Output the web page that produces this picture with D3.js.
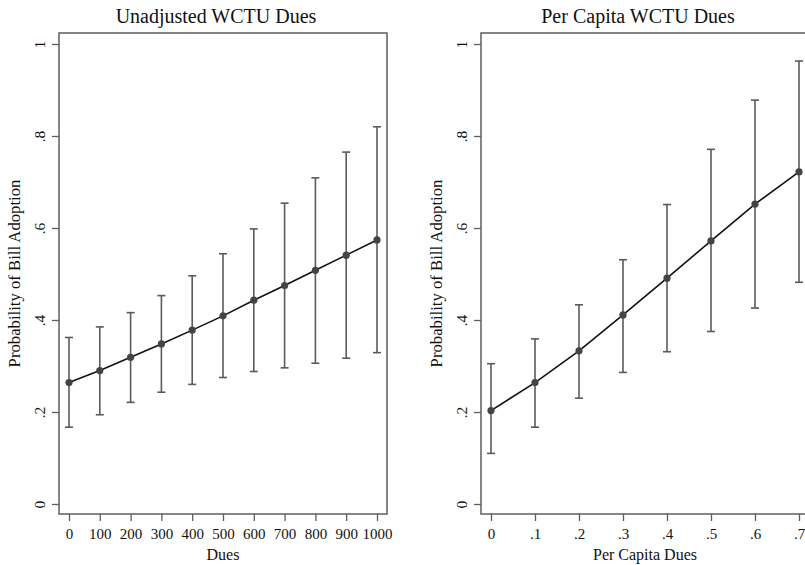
<!DOCTYPE html>
<html>
<head>
  <meta charset="utf-8" />
  <title>WCTU Dues</title>
  <style>
    body { margin: 0; background: #ffffff; }
    svg { display: block; font-family: 'Liberation Serif', 'Times New Roman', serif; }
  </style>
  <script src="https://cdnjs.cloudflare.com/ajax/libs/d3/7.8.5/d3.min.js"></script>
</head>
<body>
<div id="chart"></div>
<script>
  // left panel: unadjusted dues
  var duesX = [0, 100, 200, 300, 400, 500, 600, 700, 800, 900, 1000];
  var duesProb = [0.264, 0.290, 0.319, 0.348, 0.378, 0.409, 0.443, 0.475, 0.508, 0.541, 0.574];
  var duesLow = [0.167, 0.194, 0.221, 0.243, 0.260, 0.275, 0.288, 0.296, 0.306, 0.317, 0.329];
  var duesHigh = [0.362, 0.385, 0.416, 0.453, 0.496, 0.544, 0.598, 0.654, 0.709, 0.765, 0.820];

  // right panel: per capita dues
  var capX = [0, 0.1, 0.2, 0.3, 0.4, 0.5, 0.6, 0.7];
  var capProb = [0.203, 0.264, 0.333, 0.411, 0.491, 0.572, 0.652, 0.722];
  var capLow = [0.110, 0.167, 0.230, 0.286, 0.331, 0.375, 0.426, 0.482];
  var capHigh = [0.305, 0.359, 0.433, 0.531, 0.651, 0.771, 0.878, 0.963];

  var yTicks = [0, 0.2, 0.4, 0.6, 0.8, 1];
  var yTickLabels = ["0", ".2", ".4", ".6", ".8", "1"];
  var duesTickLabels = ["0", "100", "200", "300", "400", "500", "600", "700", "800", "900", "1000"];
  var capTickLabels = ["0", ".1", ".2", ".3", ".4", ".5", ".6", ".7"];

  var W = 805, H = 565;
  var svg = d3.select("#chart").append("svg")
    .attr("width", W)
    .attr("height", H);

  var frameTop = 33, frameBottom = 514, pad = 10;

  function drawPanel(p) {
    var g = svg.append("g");

    var x = d3.scaleLinear()
      .domain([p.xs[0], p.xs[p.xs.length - 1]])
      .range([p.left + pad, p.right - pad]);
    var y = d3.scaleLinear()
      .domain([0, 1])
      .range([frameBottom - pad, frameTop + 11]);

    var rows = p.xs.map(function (v, i) {
      return { x: v, p: p.prob[i], lo: p.low[i], hi: p.high[i] };
    });

    // frame
    g.append("rect")
      .attr("x", p.left)
      .attr("y", frameTop)
      .attr("width", p.right - p.left)
      .attr("height", frameBottom - frameTop)
      .attr("fill", "none")
      .attr("stroke", "#5e5e5e")
      .attr("stroke-width", 1.5);

    // y axis
    var ya = g.append("g")
      .attr("transform", "translate(" + p.left + ",0)")
      .call(d3.axisLeft(y).tickValues(yTicks).tickSize(7)
        .tickFormat(function (d, i) { return yTickLabels[i]; }));
    ya.select(".domain").remove();
    ya.selectAll(".tick line").attr("stroke", "#5e5e5e").attr("stroke-width", 1.3);
    ya.selectAll(".tick text")
      .attr("x", 0).attr("dy", 0)
      .attr("text-anchor", "middle")
      .attr("transform", "translate(-14,0) rotate(-90)")
      .attr("font-family", "'Liberation Serif', serif")
      .attr("font-size", 15.5)
      .attr("fill", "#111");

    // x axis
    var xa = g.append("g")
      .attr("transform", "translate(0," + frameBottom + ")")
      .call(d3.axisBottom(x).tickValues(p.xs).tickSize(7)
        .tickFormat(function (d, i) { return p.tickLabels[i]; }));
    xa.select(".domain").remove();
    xa.selectAll(".tick line").attr("stroke", "#5e5e5e").attr("stroke-width", 1.3);
    xa.selectAll(".tick text")
      .attr("y", 25).attr("dy", 0)
      .attr("font-family", "'Liberation Serif', serif")
      .attr("font-size", 15)
      .attr("fill", "#111");

    // error bars
    var bars = g.append("g")
      .attr("stroke", "#5a5a5a")
      .attr("stroke-width", 1.6)
      .selectAll("g")
      .data(rows)
      .enter().append("g");
    bars.append("line")
      .attr("x1", function (d) { return x(d.x); })
      .attr("x2", function (d) { return x(d.x); })
      .attr("y1", function (d) { return y(d.lo); })
      .attr("y2", function (d) { return y(d.hi); });
    bars.append("line")
      .attr("x1", function (d) { return x(d.x) - 4; })
      .attr("x2", function (d) { return x(d.x) + 4; })
      .attr("y1", function (d) { return y(d.lo); })
      .attr("y2", function (d) { return y(d.lo); });
    bars.append("line")
      .attr("x1", function (d) { return x(d.x) - 4; })
      .attr("x2", function (d) { return x(d.x) + 4; })
      .attr("y1", function (d) { return y(d.hi); })
      .attr("y2", function (d) { return y(d.hi); });

    // fitted line
    g.append("path")
      .datum(rows)
      .attr("fill", "none")
      .attr("stroke", "#111")
      .attr("stroke-width", 1.6)
      .attr("d", d3.line()
        .x(function (d) { return x(d.x); })
        .y(function (d) { return y(d.p); }));

    g.append("g")
      .selectAll("circle")
      .data(rows)
      .enter()
      .append("circle")
      .attr("cx", function (d) { return x(d.x); })
      .attr("cy", function (d) { return y(d.p); })
      .attr("r", 3.6)
      .attr("fill", "#444");

    // titles
    var mid = (p.left + p.right) / 2;
    g.append("text")
      .attr("x", mid - 7)
      .attr("y", 23)
      .attr("text-anchor", "middle")
      .attr("font-size", 20)
      .attr("fill", "#111")
      .text(p.title);
    g.append("text")
      .attr("x", mid)
      .attr("y", 560)
      .attr("text-anchor", "middle")
      .attr("font-size", 16)
      .attr("fill", "#111")
      .text(p.xTitle);
    g.append("text")
      .attr("transform", "translate(" + (p.left - 39) + "," + ((frameTop + frameBottom) / 2) + ") rotate(-90)")
      .attr("text-anchor", "middle")
      .attr("font-size", 16.7)
      .attr("fill", "#111")
      .text("Probability of Bill Adoption");
  }

  drawPanel({
    left: 59, right: 387,
    xs: duesX, prob: duesProb, low: duesLow, high: duesHigh,
    tickLabels: duesTickLabels,
    title: "Unadjusted WCTU Dues", xTitle: "Dues"
  });

  drawPanel({
    left: 481, right: 809,
    xs: capX, prob: capProb, low: capLow, high: capHigh,
    tickLabels: capTickLabels,
    title: "Per Capita WCTU Dues", xTitle: "Per Capita Dues"
  });
</script>
</body>
</html>
